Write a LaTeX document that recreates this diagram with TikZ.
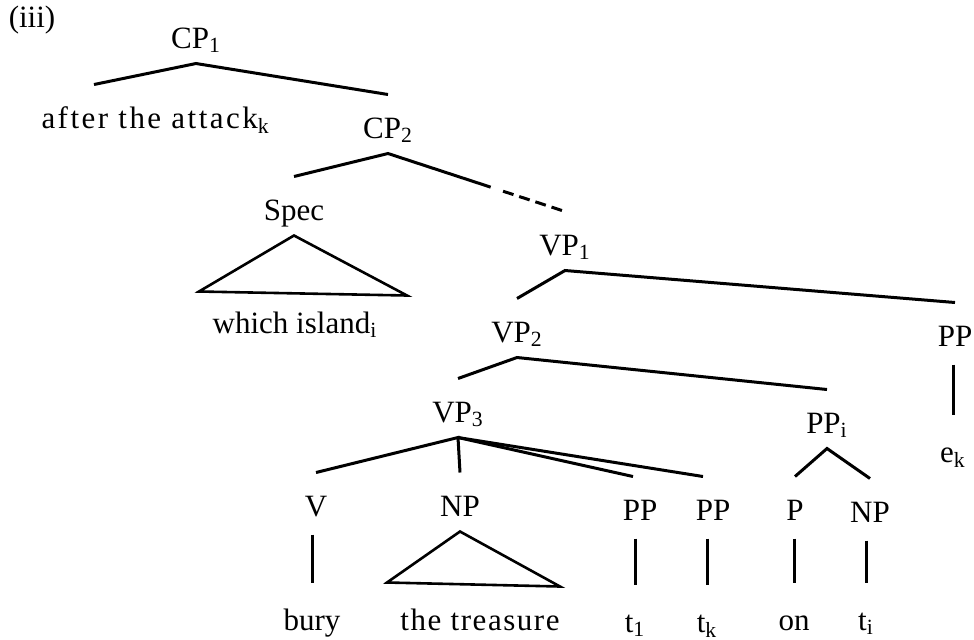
\documentclass[tikz,border=0pt]{standalone}
\usepackage{fontspec}
\setmainfont{Liberation Serif}
\newfontfamily\widefont[LetterSpace=8]{Liberation Serif}
\newfontfamily\midfont[LetterSpace=5]{Liberation Serif}
\usepackage{tikz}
\usetikzlibrary{calc}
\newcommand{\treesize}{\fontsize{15.5}{18}\selectfont}
\tikzset{lab/.style={anchor=base,inner sep=0pt,text height=21pt,text depth=7pt},
  stem/.style={shorten <=1.5pt,shorten >=2pt}}

\begin{document}
\begin{tikzpicture}[x=0.5pt,y=-0.5pt,line width=1.5pt,font=\treesize]
    \useasboundingbox (0,0) rectangle (974,639);
    % labels
    \node[lab] (iii) at (32,27) {(iii)};
    \node[lab] (cp1) at (196,48) {CP\textsubscript{1}};
    \node[lab,anchor=base west,font=\treesize\widefont] (after) at (40,128) {after the attack\textsubscript{k}};
    \node[lab] (cp2) at (388,138) {CP\textsubscript{2}};
    \node[lab] (spec) at (294,220) {Spec};
    \node[lab] (island) at (295,333) {which island\textsubscript{i}};
    \node[lab] (vp1) at (565,255) {VP\textsubscript{1}};
    \node[lab] (vp2) at (517,342) {VP\textsubscript{2}};
    \node[lab] (ppe) at (955,346) {PP};
    \node[lab] (ek) at (953,462) {e\textsubscript{k}};
    \node[lab] (vp3) at (458,422) {VP\textsubscript{3}};
    \node[lab] (ppi) at (827,433) {PP\textsubscript{i}};
    \node[lab] (v) at (316,516) {V};
    \node[lab] (np) at (460,516) {NP};
    \node[lab] (ppa) at (640,520) {PP};
    \node[lab] (ppb) at (713,520) {PP};
    \node[lab] (p) at (795,520) {P};
    \node[lab] (npi) at (870,522) {NP};
    \node[lab] (bury) at (312,630) {bury};
    \node[lab,font=\treesize\midfont] (treasure) at (480,630) {the treasure};
    \node[lab] (ta) at (635,632) {t\textsubscript{1}};
    \node[lab] (tk) at (707,632) {t\textsubscript{k}};
    \node[lab] (on) at (794,630) {on};
    \node[lab] (ti) at (866,630) {t\textsubscript{i}};
    % branches
    \draw ([xshift=27pt]after.north west) -- (cp1.south) -- (cp2.north);
    \draw (spec.north) -- (cp2.south) -- ($(cp2.south)!.58!(vp1.north)$);
    \draw[dashed,dash pattern=on 5.5pt off 3pt] ($(cp2.south)!.65!(vp1.north)$) -- (vp1.north);
    \draw[line width=1.3pt] (spec.south) -- ([xshift=-48pt,yshift=-1pt]island.north) -- ([xshift=56pt,yshift=-3pt]island.north) -- cycle;
    \draw (vp2.north) -- (vp1.south) -- (ppe.north);
    \draw (vp3.north) -- (vp2.south) -- (ppi.north);
    \draw (v.north) -- (vp3.south) -- (np.north);
    \draw (vp3.south) -- ([xshift=-3.5pt]ppa.north);
    \draw (vp3.south) -- ([xshift=-5pt]ppb.north);
    \draw (p.north) -- (ppi.south) -- (npi.north);
    \draw[line width=1.3pt] (np.south) -- ([xshift=-46.5pt,yshift=2pt]treasure.north) -- ([xshift=40pt]treasure.north) -- cycle;
    % stems
    \draw[stem] (ek.north |- ppe.south) -- (ek.north);
    \draw[stem] (bury.north |- v.south) -- (bury.north);
    \draw[stem] (ta.north |- ppa.south) -- (ta.north);
    \draw[stem] (tk.north |- ppb.south) -- (tk.north);
    \draw[stem] (on.north |- p.south) -- (on.north);
    \draw[stem] (ti.north |- npi.south) -- (ti.north);
\end{tikzpicture}
\end{document}
